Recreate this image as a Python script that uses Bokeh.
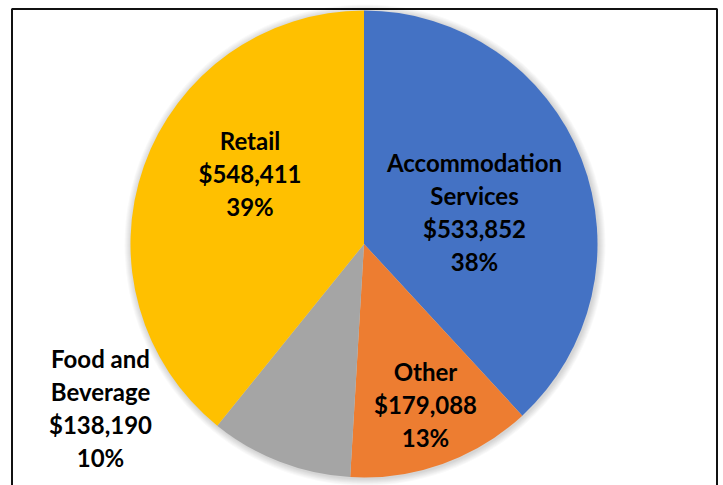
import math
from bokeh.plotting import figure
from bokeh.models import Range1d, ColumnDataSource
from bokeh.core.properties import value
from bokeh.embed import file_html
from bokeh.resources import INLINE

# ---- data ----
categories = ["Accommodation Services", "Other", "Food and Beverage", "Retail"]
label_lines = [["Accommodation", "Services"], ["Other"], ["Food and", "Beverage"], ["Retail"]]
amounts = [533852, 179088, 138190, 548411]
colors = ["#4472C4", "#ED7D31", "#A5A5A5", "#FFC000"]

# ---- layout (pixel coords, y up) ----
W, H = 723, 485
CX, CY, R = 363.5, 241.5, 233.5
label_pos = [(474, 274), (425, 81), (100, 78), (249.5, 312)]  # centre of label block
LINE_H = 33

p = figure(width=W, height=H, output_backend="svg", toolbar_location=None,
           x_range=Range1d(0, W), y_range=Range1d(0, H), min_border=0)
p.axis.visible = False
p.grid.visible = False
p.outline_line_color = None
p.background_fill_color = "white"

# frame border
p.quad(left=[11.5], right=[716.5], bottom=[-20], top=[476.5], fill_color=None,
       line_color="#111111", line_width=2)

# soft shadow around pie
for k in range(7, 0, -1):
    p.circle(x=[CX + 1], y=[CY - 1], radius=R + k, fill_color="black",
             fill_alpha=0.022, line_color=None)

total = float(sum(amounts))
starts, ends = [], []
cum = 0.0
for a in amounts:
    starts.append(math.pi / 2 - 2 * math.pi * cum / total)
    cum += a
    ends.append(math.pi / 2 - 2 * math.pi * cum / total)

src = ColumnDataSource(dict(x=[CX] * 4, y=[CY] * 4, start=starts, end=ends,
                            color=colors, cat=categories))
p.wedge(x="x", y="y", radius=R, start_angle="start", end_angle="end",
        direction="clock", fill_color="color", line_color=None, source=src)

# labels
tx, ty, tt = [], [], []
for lines, amt, (lx, ly) in zip(label_lines, amounts, label_pos):
    pct = round(100 * amt / total)
    all_lines = lines + ["${:,}".format(amt), "{}%".format(pct)]
    n = len(all_lines)
    for i, s in enumerate(all_lines):
        tx.append(lx)
        ty.append(ly + (n - 1) / 2 * LINE_H - i * LINE_H)
        tt.append(s)
p.text(x=tx, y=ty, text=tt, text_align="center", text_baseline="middle",
       text_font=value("Lato"), text_font_style="bold", text_font_size="24px",
       text_color="black")

open("out.html", "w").write(file_html(p, INLINE))
